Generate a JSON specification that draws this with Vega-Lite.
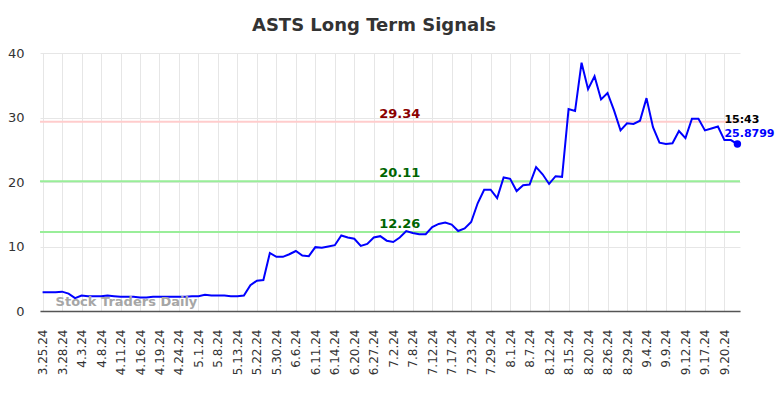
{
  "$schema": "https://vega.github.io/schema/vega-lite/v6.json",
  "width": 700,
  "height": 258,
  "autosize": "none",
  "padding": {"left": 40, "top": 53, "right": 44, "bottom": 87},
  "title": {"text": "ASTS Long Term Signals", "fontSize": 18, "fontWeight": "bold", "color": "#333333", "font": "DejaVu Sans", "anchor": "middle", "dx": -16, "offset": 12},
  "config": {
    "view": {"stroke": null},
    "font": "DejaVu Sans",
    "axis": {"gridColor": "#e6e6e6", "gridWidth": 1, "ticks": false, "labelColor": "#333333"}
  },
  "datasets": {
    "prices": [
      {"date": "3.25.24", "v": 2.9}, {"date": "3.26.24", "v": 2.9}, {"date": "3.27.24", "v": 2.9},
      {"date": "3.28.24", "v": 3.0}, {"date": "4.1.24", "v": 2.7}, {"date": "4.2.24", "v": 2.0},
      {"date": "4.3.24", "v": 2.4}, {"date": "4.4.24", "v": 2.3}, {"date": "4.5.24", "v": 2.3},
      {"date": "4.8.24", "v": 2.3}, {"date": "4.9.24", "v": 2.4}, {"date": "4.10.24", "v": 2.3},
      {"date": "4.11.24", "v": 2.2}, {"date": "4.12.24", "v": 2.2}, {"date": "4.15.24", "v": 2.2},
      {"date": "4.16.24", "v": 2.1}, {"date": "4.17.24", "v": 2.1}, {"date": "4.18.24", "v": 2.2},
      {"date": "4.19.24", "v": 2.2}, {"date": "4.22.24", "v": 2.2}, {"date": "4.23.24", "v": 2.2},
      {"date": "4.24.24", "v": 2.2}, {"date": "4.25.24", "v": 2.2}, {"date": "4.29.24", "v": 2.3},
      {"date": "5.1.24", "v": 2.3}, {"date": "5.3.24", "v": 2.5}, {"date": "5.6.24", "v": 2.4},
      {"date": "5.8.24", "v": 2.4}, {"date": "5.9.24", "v": 2.4}, {"date": "5.10.24", "v": 2.3},
      {"date": "5.13.24", "v": 2.3}, {"date": "5.15.24", "v": 2.4}, {"date": "5.20.24", "v": 4.0},
      {"date": "5.22.24", "v": 4.7}, {"date": "5.24.24", "v": 4.8}, {"date": "5.28.24", "v": 9.0},
      {"date": "5.30.24", "v": 8.4}, {"date": "5.31.24", "v": 8.4}, {"date": "6.4.24", "v": 8.8},
      {"date": "6.6.24", "v": 9.3}, {"date": "6.7.24", "v": 8.6}, {"date": "6.10.24", "v": 8.5},
      {"date": "6.11.24", "v": 9.9}, {"date": "6.12.24", "v": 9.8}, {"date": "6.13.24", "v": 10.0},
      {"date": "6.14.24", "v": 10.2}, {"date": "6.17.24", "v": 11.7}, {"date": "6.18.24", "v": 11.4},
      {"date": "6.20.24", "v": 11.2}, {"date": "6.21.24", "v": 10.1}, {"date": "6.25.24", "v": 10.4},
      {"date": "6.27.24", "v": 11.4}, {"date": "6.28.24", "v": 11.6}, {"date": "7.1.24", "v": 10.9},
      {"date": "7.2.24", "v": 10.7}, {"date": "7.3.24", "v": 11.4}, {"date": "7.5.24", "v": 12.4},
      {"date": "7.8.24", "v": 12.1}, {"date": "7.9.24", "v": 11.9}, {"date": "7.11.24", "v": 11.9},
      {"date": "7.12.24", "v": 13.0}, {"date": "7.15.24", "v": 13.5}, {"date": "7.16.24", "v": 13.7},
      {"date": "7.17.24", "v": 13.4}, {"date": "7.18.24", "v": 12.4}, {"date": "7.19.24", "v": 12.8},
      {"date": "7.23.24", "v": 13.8}, {"date": "7.24.24", "v": 16.7}, {"date": "7.26.24", "v": 18.8},
      {"date": "7.29.24", "v": 18.8}, {"date": "7.30.24", "v": 17.5}, {"date": "7.31.24", "v": 20.7},
      {"date": "8.1.24", "v": 20.5}, {"date": "8.2.24", "v": 18.6}, {"date": "8.5.24", "v": 19.5},
      {"date": "8.7.24", "v": 19.6}, {"date": "8.8.24", "v": 22.3}, {"date": "8.9.24", "v": 21.2},
      {"date": "8.12.24", "v": 19.7}, {"date": "8.13.24", "v": 20.9}, {"date": "8.14.24", "v": 20.8},
      {"date": "8.15.24", "v": 31.3}, {"date": "8.16.24", "v": 31.0}, {"date": "8.19.24", "v": 38.5},
      {"date": "8.20.24", "v": 34.4}, {"date": "8.21.24", "v": 36.4}, {"date": "8.23.24", "v": 32.8},
      {"date": "8.26.24", "v": 33.8}, {"date": "8.27.24", "v": 31.1}, {"date": "8.28.24", "v": 28.0},
      {"date": "8.29.24", "v": 29.1}, {"date": "8.30.24", "v": 29.0}, {"date": "9.3.24", "v": 29.5},
      {"date": "9.4.24", "v": 33.0}, {"date": "9.5.24", "v": 28.5}, {"date": "9.6.24", "v": 26.1},
      {"date": "9.9.24", "v": 25.9}, {"date": "9.10.24", "v": 26.0}, {"date": "9.11.24", "v": 27.9},
      {"date": "9.12.24", "v": 26.8}, {"date": "9.13.24", "v": 29.8}, {"date": "9.16.24", "v": 29.8},
      {"date": "9.17.24", "v": 28.0}, {"date": "9.18.24", "v": 28.3}, {"date": "9.19.24", "v": 28.6},
      {"date": "9.20.24", "v": 26.5}, {"date": "9.23.24", "v": 26.5}, {"date": "9.24.24", "v": 25.8799}
    ],
    "levels": [
      {"level": 29.34, "label": "29.34", "kind": "resistance"},
      {"level": 20.11, "label": "20.11", "kind": "support"},
      {"level": 12.26, "label": "12.26", "kind": "support"}
    ]
  },
  "encoding": {
    "x": {
      "field": "date", "type": "ordinal", "sort": null,
      "scale": {"type": "point", "padding": 0.4},
      "axis": {
        "title": null,
        "values": ["3.25.24","3.28.24","4.3.24","4.8.24","4.11.24","4.16.24","4.19.24","4.24.24","5.1.24","5.8.24","5.13.24","5.22.24","5.30.24","6.6.24","6.11.24","6.14.24","6.20.24","6.27.24","7.2.24","7.8.24","7.12.24","7.17.24","7.23.24","7.29.24","8.1.24","8.7.24","8.12.24","8.15.24","8.20.24","8.26.24","8.29.24","9.4.24","9.9.24","9.12.24","9.17.24","9.20.24"],
        "labelAngle": -90, "labelFontSize": 12, "labelPadding": 18,
        "domainColor": "#555555", "domainWidth": 1.5, "grid": true
      }
    }
  },
  "layer": [
    {
      "data": {"name": "levels"},
      "mark": {"type": "rule", "strokeWidth": 2},
      "encoding": {
        "x": null,
        "y": {"field": "level", "type": "quantitative", "scale": {"domain": [0, 40]}},
        "color": {"field": "kind", "type": "nominal", "scale": {"domain": ["resistance", "support"], "range": ["#ffcccc", "#99ee99"]}, "legend": null}
      }
    },
    {
      "data": {"name": "prices"},
      "mark": {"type": "line", "color": "#0000ff", "strokeWidth": 2},
      "encoding": {
        "y": {"field": "v", "type": "quantitative", "scale": {"domain": [0, 40]},
          "axis": {"title": null, "values": [0, 10, 20, 30, 40], "labelFontSize": 13, "labelPadding": 16, "domain": false, "grid": true}}
      }
    },
    {
      "data": {"name": "prices"},
      "transform": [{"filter": "datum.date === '9.24.24'"}],
      "mark": {"type": "circle", "color": "#0000ff", "size": 55, "opacity": 1},
      "encoding": {"y": {"field": "v", "type": "quantitative"}}
    },
    {
      "data": {"name": "levels"},
      "mark": {"type": "text", "fontWeight": "bold", "fontSize": 13, "baseline": "bottom", "dy": -1, "align": "center"},
      "encoding": {
        "x": {"datum": "7.3.24"},
        "y": {"field": "level", "type": "quantitative"},
        "text": {"field": "label"},
        "color": {"field": "kind", "type": "nominal", "scale": {"domain": ["resistance", "support"], "range": ["#8b0000", "#006400"]}, "legend": null}
      }
    },
    {
      "data": {"values": [{"t": "Stock Traders Daily"}]},
      "mark": {"type": "text", "fontWeight": "bold", "fontSize": 13, "color": "#a6a6a6", "align": "left", "baseline": "middle"},
      "encoding": {"x": {"datum": "3.27.24"}, "y": {"datum": 1.35}, "text": {"field": "t"}}
    },
    {
      "data": {"values": [{"t": "15:43"}]},
      "mark": {"type": "text", "fontWeight": "bold", "fontSize": 11, "color": "#000000", "align": "left", "baseline": "middle"},
      "encoding": {"x": {"datum": "9.20.24"}, "y": {"datum": 29.6}, "text": {"field": "t"}}
    },
    {
      "data": {"values": [{"t": "25.8799"}]},
      "mark": {"type": "text", "fontWeight": "bold", "fontSize": 11, "color": "#0000ff", "align": "left", "baseline": "middle"},
      "encoding": {"x": {"datum": "9.20.24"}, "y": {"datum": 27.4}, "text": {"field": "t"}}
    }
  ],
  "resolve": {"scale": {"color": "independent"}}
}
